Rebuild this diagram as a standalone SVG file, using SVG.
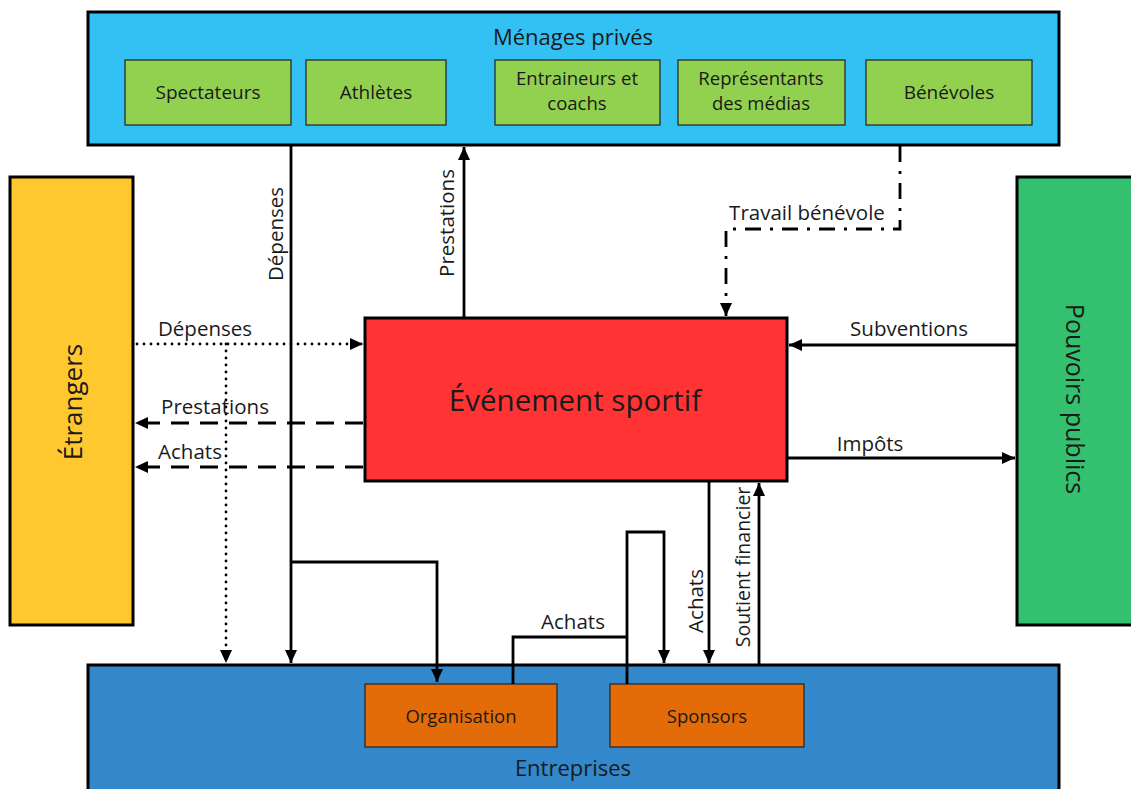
<svg xmlns="http://www.w3.org/2000/svg" width="1131" height="789" viewBox="0 0 1131 789">
<style>
.t{font-family:"Open Sans","Liberation Sans",sans-serif;fill:#1a1a1a}
.box{stroke:#000;stroke-width:3}
.sub{fill:#92D050;stroke:#222;stroke-width:1.2}
.org{fill:#E36C09;stroke:#222;stroke-width:1.2}
.c{fill:none;stroke:#000;stroke-width:2.8}
.dot{stroke-dasharray:0 7;stroke-linecap:round}
.dash{stroke-dasharray:18 11}
.dd{stroke-dasharray:16 9 3 9}
</style>
<defs>
<marker id="a" markerUnits="userSpaceOnUse" markerWidth="14" markerHeight="14" refX="13" refY="7" orient="auto">
<path d="M0,1 L13,7 L0,13 z" fill="#000"/>
</marker>
</defs>
<rect width="1131" height="789" fill="#fff"/>

<g id="menages">
<rect class="box" x="88" y="12" width="971" height="133" fill="#33C1F3"/>
<text class="t" x="573" y="45" font-size="22" text-anchor="middle">Ménages privés</text>
</g>
<g id="spectateurs"><rect class="sub" x="125" y="60" width="166" height="65"/><text class="t" x="208" y="99" font-size="19" text-anchor="middle">Spectateurs</text></g>
<g id="athletes"><rect class="sub" x="306" y="60" width="140" height="65"/><text class="t" x="376" y="99" font-size="19" text-anchor="middle">Athlètes</text></g>
<g id="entraineurs"><rect class="sub" x="495" y="60" width="165" height="65"/><text class="t" x="577" y="85" font-size="18.5" text-anchor="middle">Entraineurs et</text><text class="t" x="577" y="110" font-size="18.5" text-anchor="middle">coachs</text></g>
<g id="medias"><rect class="sub" x="678" y="60" width="167" height="65"/><text class="t" x="761" y="85" font-size="18.5" text-anchor="middle">Représentants</text><text class="t" x="761" y="110" font-size="18.5" text-anchor="middle">des médias</text></g>
<g id="benevoles"><rect class="sub" x="866" y="60" width="166" height="65"/><text class="t" x="949" y="99" font-size="19" text-anchor="middle">Bénévoles</text></g>

<g id="etrangers">
<rect class="box" x="10" y="177" width="123" height="448" fill="#FFC82F"/>
<text class="t" transform="translate(82,402) rotate(-90)" font-size="26" text-anchor="middle">Étrangers</text>
</g>
<g id="pouvoirs">
<rect class="box" x="1017" y="177" width="120" height="448" fill="#33C170"/>
<text class="t" transform="translate(1066,399) rotate(90)" font-size="25" text-anchor="middle">Pouvoirs publics</text>
</g>
<g id="evenement">
<rect class="box" x="365" y="318" width="422" height="163" fill="#FF3333"/>
<text class="t" x="575" y="411" font-size="29.5" text-anchor="middle">Événement sportif</text>
</g>
<g id="entreprises">
<rect class="box" x="88" y="665" width="971" height="130" fill="#3388CC"/>
<text class="t" x="573" y="776" font-size="22" text-anchor="middle">Entreprises</text>
</g>
<g id="organisation"><rect class="org" x="365" y="684" width="192" height="63"/><text class="t" x="461" y="723" font-size="18.5" text-anchor="middle">Organisation</text></g>
<g id="sponsors"><rect class="org" x="610" y="684" width="194" height="63"/><text class="t" x="707" y="723" font-size="18.5" text-anchor="middle">Sponsors</text></g>

<g id="connectors">
<path class="c" d="M291,146 V663" marker-end="url(#a)"/>
<path class="c" d="M291,562 H437 V682" marker-end="url(#a)"/>
<path class="c" d="M464,318 V147" marker-end="url(#a)"/>
<path class="c dd" d="M900,146 V229 H726 V316" marker-end="url(#a)"/>
<path class="c dot" d="M137,344 H363" marker-end="url(#a)"/>
<path class="c dot" d="M226,344 V663" marker-end="url(#a)"/>
<path class="c dash" d="M363,423 H135" marker-end="url(#a)"/>
<path class="c dash" d="M363,467 H135" marker-end="url(#a)"/>
<path class="c" d="M1016,345 H789" marker-end="url(#a)"/>
<path class="c" d="M787,458 H1015" marker-end="url(#a)"/>
<path class="c" d="M709,481 V663" marker-end="url(#a)"/>
<path class="c" d="M759,664 V483" marker-end="url(#a)"/>
<path class="c" d="M513,684 V637 H627"/>
<path class="c" d="M627,684 V532 H664 V663" marker-end="url(#a)"/>
<g class="t" font-size="20.5">
<text transform="translate(283,234) rotate(-90)" text-anchor="middle">Dépenses</text>
<text transform="translate(454,223) rotate(-90)" text-anchor="middle">Prestations</text>
<text x="807" y="220" text-anchor="middle">Travail bénévole</text>
<text x="205" y="336" text-anchor="middle">Dépenses</text>
<text x="215" y="414" text-anchor="middle">Prestations</text>
<text x="190" y="459" text-anchor="middle">Achats</text>
<text x="909" y="336" text-anchor="middle">Subventions</text>
<text x="870" y="451" text-anchor="middle">Impôts</text>
<text x="573" y="629" text-anchor="middle">Achats</text>
<text transform="translate(703,601) rotate(-90)" text-anchor="middle">Achats</text>
<text transform="translate(750,567) rotate(-90)" text-anchor="middle" font-size="19.5">Soutient financier</text>
</g>
</g>
</svg>
